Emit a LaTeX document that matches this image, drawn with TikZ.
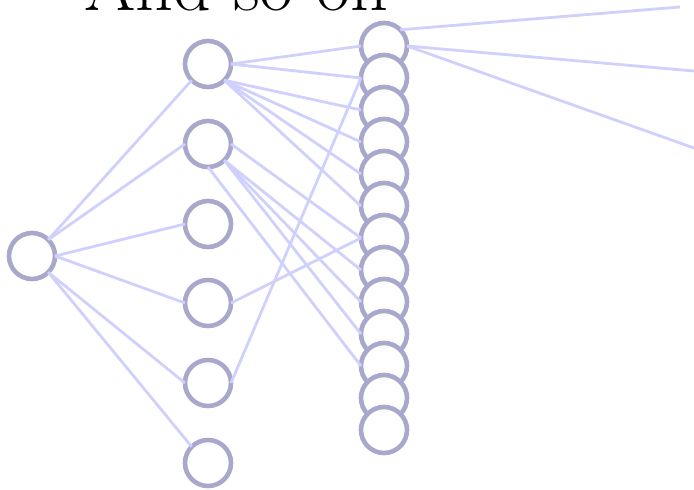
\documentclass[tikz,border=0pt]{standalone}
\definecolor{RingGray}{HTML}{A8A8CC}
\definecolor{EdgeLilac}{HTML}{D0D0FC}
\usepackage{tikz}

\begin{document}
\begin{tikzpicture}[
  x=1pt, y=-1pt,
  unit/.style={
    circle, draw=RingGray, line width=4.6pt, fill=white,
    minimum size=46pt, inner sep=0pt, outer sep=0pt,
  },
  link/.style={draw=EdgeLilac, line width=2.8pt},
  caption/.style={font=\fontsize{74}{86}\selectfont, anchor=base, inner sep=0pt},
]
  \clip (0,0) rectangle (694,490);
  \node[caption] (title) at (236,10) {And so on};

  % first layer
  \node[unit] (root) at (32,256) {};

  % second layer
  \node[unit] (c1) at (208,64)  {};
  \node[unit] (c2) at (208,144) {};
  \node[unit] (c3) at (208,224) {};
  \node[unit] (c4) at (208,303) {};
  \node[unit] (c5) at (208,383) {};
  \node[unit] (c6) at (208,463) {};

  % third layer, stacked
  \node[unit] (g1)  at (384,46)  {};
  \node[unit] (g2)  at (384,78)  {};
  \node[unit] (g3)  at (384,110) {};
  \node[unit] (g4)  at (384,142) {};
  \node[unit] (g5)  at (384,174) {};
  \node[unit] (g6)  at (384,206) {};
  \node[unit] (g7)  at (384,238) {};
  \node[unit] (g8)  at (384,270) {};
  \node[unit] (g9)  at (384,302) {};
  \node[unit] (g10) at (384,334) {};
  \node[unit] (g11) at (384,366) {};
  \node[unit] (g12) at (384,398) {};
  \node[unit] (g13) at (384,430) {};

  \coordinate (far1) at (680,7);
  \coordinate (far2) at (694,71);
  \coordinate (far3) at (694,148);

  \draw[link] (root.north east) -- (c1.south west);
  \draw[link] (root.north east) -- (c2.west);
  \draw[link] (root.east)       -- (c3.west);
  \draw[link] (root.east)       -- (c4.west);
  \draw[link] (root.south east) -- (c5.west);
  \draw[link] (root.south east) -- (c6.north west);

  \draw[link] (c1.east)       -- (g1.west);
  \draw[link] (c1.east)       -- (g2.west);
  \draw[link] (c1.south east) -- (g3.west);
  \draw[link] (c1.south east) -- (g4.west);
  \draw[link] (c1.south east) -- (g5.west);
  \draw[link] (c1.south east) -- (g6.west);

  \draw[link] (c2.east)       -- (g7.west);
  \draw[link] (c2.south east) -- (g8.west);
  \draw[link] (c2.south east) -- (g9.west);
  \draw[link] (c2.south east) -- (g10.west);
  \draw[link] (c2.south)      -- (g11.west);

  \draw[link] (c4.east) -- (g7.west);
  \draw[link] (c5.east) -- (g2.west);

  \draw[link] (g1.north east) -- (far1);
  \draw[link] (g1.east)       -- (far2);
  \draw[link] (g1.east)       -- (far3);
\end{tikzpicture}
\end{document}
